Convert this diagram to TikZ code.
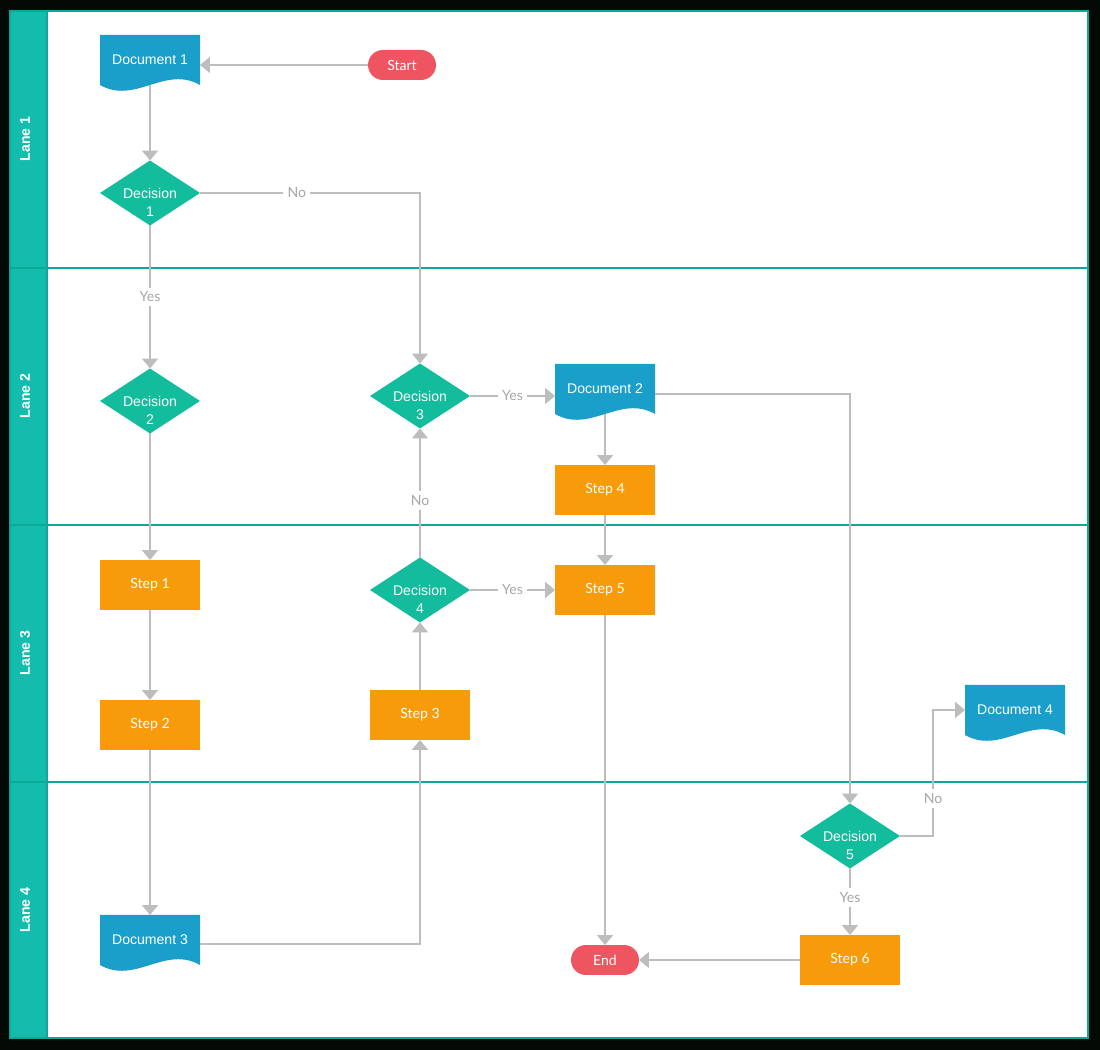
\documentclass[tikz,border=0pt]{standalone}
\usepackage{fontspec}
\setmainfont{Liberation Sans}
\newfontfamily\latofont{Lato}
\usetikzlibrary{shapes.geometric,arrows.meta,calc}
\definecolor{frameblack}{HTML}{030A05}
\definecolor{laneteal}{HTML}{14BCAD}
\definecolor{lineteal}{HTML}{0DA899}
\definecolor{docblue}{HTML}{1A9FCB}
\definecolor{decgreen}{HTML}{13BC9C}
\definecolor{steporange}{HTML}{F89B0B}
\definecolor{termred}{HTML}{EF5561}
\definecolor{linegray}{HTML}{BDBDBD}
\definecolor{labelgray}{HTML}{A6A6A6}
\tikzstyle{stepbox}=[rectangle,fill=steporange,text=white,minimum width=2cm,minimum height=1cm,inner sep=0pt,outer sep=0pt,font=\latofont\fontsize{8}{10}\selectfont]
\tikzstyle{decision}=[diamond,fill=decgreen,minimum width=2cm,minimum height=1.3cm,aspect=1.54,inner sep=0pt,outer sep=0pt]
\tikzstyle{dectext}=[text=white,align=center,inner sep=0pt,font=\fontsize{8}{10}\selectfont]
\tikzstyle{terminal}=[rectangle,rounded corners=0.3cm,fill=termred,text=white,minimum width=1.36cm,minimum height=0.6cm,inner sep=0pt,outer sep=0pt,font=\latofont\fontsize{8}{10}\selectfont]
\tikzstyle{doctext}=[rectangle,minimum width=2cm,minimum height=1cm,inner sep=0pt,outer sep=0pt,text=white,font=\fontsize{8}{10}\selectfont]
\tikzstyle{flow}=[draw=linegray,line width=1.1pt,-{Triangle[width=0.32cm,length=0.2cm]}]
\tikzstyle{lbl}=[fill=white,text=labelgray,inner sep=2.5pt,font=\latofont\fontsize{8}{10}\selectfont]
\tikzstyle{lanelabel}=[rotate=90,text=white,font=\bfseries\fontsize{8}{10}\selectfont]
% document shape: wavy bottom, text node on top
\newcommand{\docnode}[3]{%
  \fill[docblue] ($(#2)+(-50,-25)$) -- ($(#2)+(50,-25)$) -- ($(#2)+(50,25)$)
    .. controls ($(#2)+(15,5)$) and ($(#2)+(-15,45)$) .. ($(#2)+(-50,25)$) -- cycle;
  \node[doctext] (#1) at (#2) {#3};}
% decision diamond, text sits a bit low
\newcommand{\decnode}[3]{%
  \node[decision] (#1) at (#2) {};
  \node[dectext] (#1t) at ([yshift=-0.19cm]#1.center) {Decision\\#3};}

\begin{document}
\begin{tikzpicture}[x=0.02cm,y=-0.02cm]
    % frame and lanes
    \fill[frameblack] (0,0) rectangle (1100,1050);
    \fill[white] (47,11) rectangle (1088,1038);
    \fill[laneteal] (10,11) rectangle (47,1038);
    \draw[lineteal,line width=1.2pt] (10,11) rectangle (1088,1038);
    \draw[lineteal,line width=1.2pt] (47,11) -- (47,1038);
    \foreach \y in {268,525,782}
        \draw[lineteal,line width=1.2pt] (10,\y) -- (1088,\y);
    \node[lanelabel] (L1) at (25,139) {Lane 1};
    \node[lanelabel] (L2) at (25,396) {Lane 2};
    \node[lanelabel] (L3) at (25,653) {Lane 3};
    \node[lanelabel] (L4) at (25,910) {Lane 4};

    % shapes
    \docnode{Doc1}{150,60}{Document 1}
    \docnode{Doc2}{605,389}{Document 2}
    \docnode{Doc3}{150,940}{Document 3}
    \docnode{Doc4}{1015,710}{Document 4}
    \node[terminal] (Start) at (402,65) {Start};
    \node[terminal] (End) at (605,960) {End};
    \decnode{D1}{150,193}{1}
    \decnode{D2}{150,401}{2}
    \decnode{D3}{420,396}{3}
    \decnode{D4}{420,590}{4}
    \decnode{D5}{850,836}{5}
    \node[stepbox] (S1) at (150,585) {Step 1};
    \node[stepbox] (S2) at (150,725) {Step 2};
    \node[stepbox] (S3) at (420,715) {Step 3};
    \node[stepbox] (S4) at (605,490) {Step 4};
    \node[stepbox] (S5) at (605,590) {Step 5};
    \node[stepbox] (S6) at (850,960) {Step 6};

    % connectors
    \draw[flow] (Start.west) -- (Start.west -| Doc1.east);
    \draw[flow] (Doc1.south) -- (D1.north);
    \draw[flow] (D1.east) -| node[lbl,pos=0.22] {No} (D3.north);
    \draw[flow] (D1.south) -- node[lbl] {Yes} (D2.north);
    \draw[flow] (D2.south) -- (S1.north);
    \draw[flow] (S1.south) -- (S2.north);
    \draw[flow] (S2.south) -- (Doc3.north);
    \draw[flow] ([yshift=-0.08cm]Doc3.east) -| (S3.south);
    \draw[flow] (S3.north) -- (D4.south);
    \draw[flow] (D4.north) -- node[lbl,pos=0.44] {No} (D3.south);
    \draw[flow] (D4.east) -- node[lbl] {Yes} (S5.west);
    \draw[flow] (D3.east) -- node[lbl] {Yes} (D3.east -| Doc2.west);
    \draw[flow] (Doc2.south) -- (S4.north);
    \draw[flow] (S4.south) -- (S5.north);
    \draw[flow] (S5.south) -- (End.north);
    \draw[flow] ([yshift=-0.1cm]Doc2.east) -| (D5.north);
    \draw[flow] (D5.east) -- ++(33,0) |- node[lbl,pos=0.15] {No} (Doc4.west);
    \draw[flow] (D5.south) -- node[lbl,pos=0.43] {Yes} (S6.north);
    \draw[flow] (S6.west) -- (End.east);
\end{tikzpicture}
\end{document}
